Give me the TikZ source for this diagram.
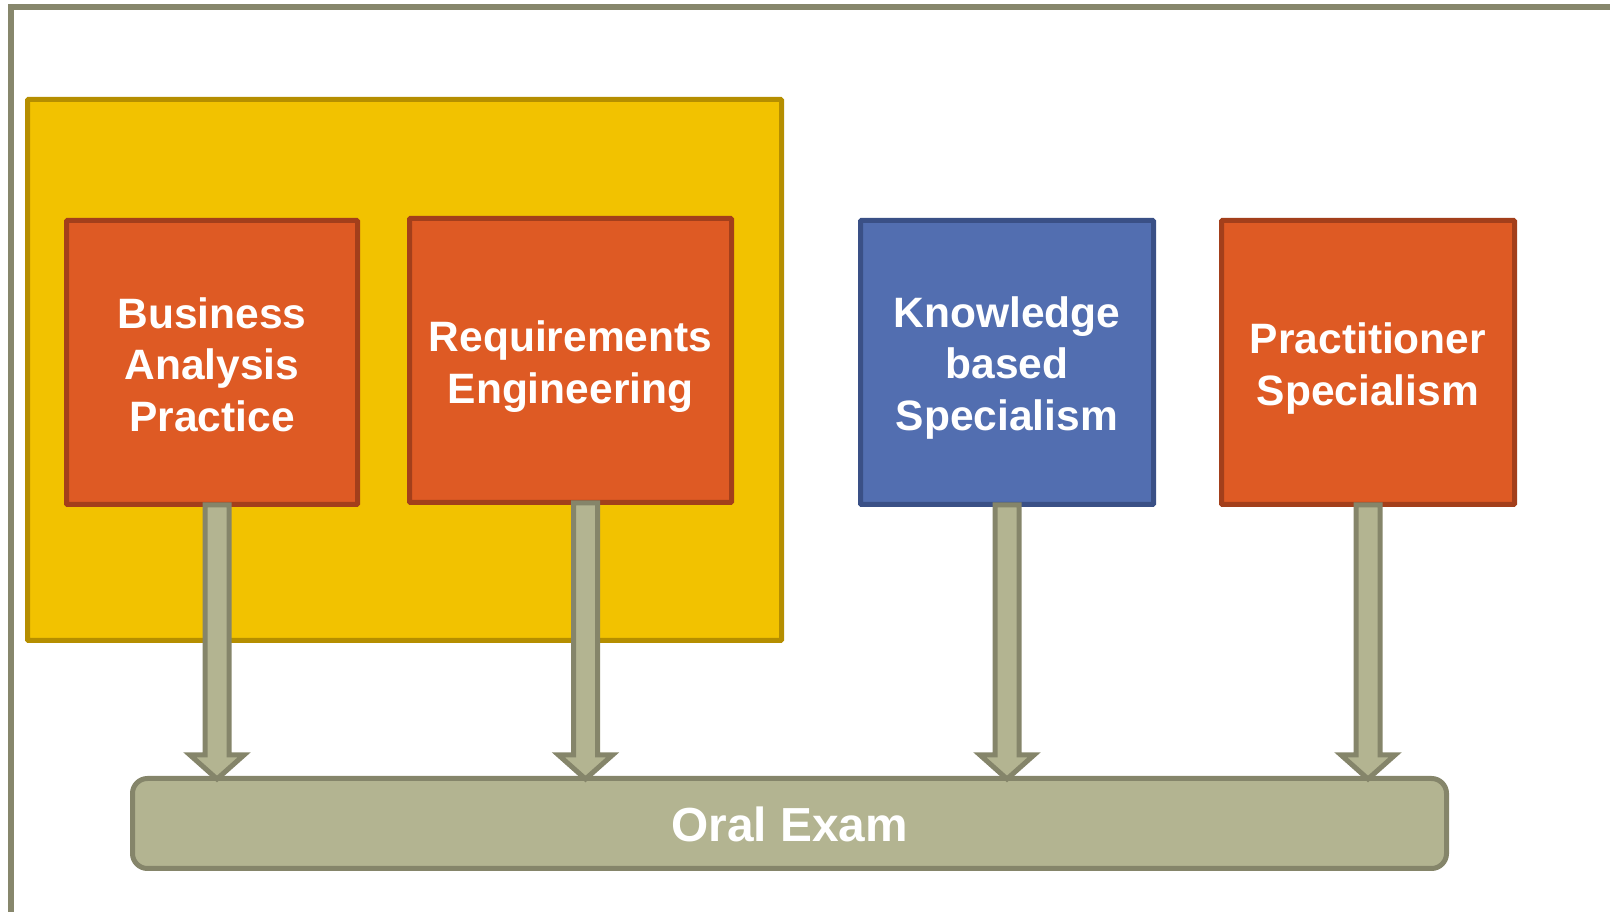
\documentclass[tikz,border=0pt]{standalone}
\usepackage{fontspec}
\setmainfont{Liberation Sans}
\usetikzlibrary{calc}

\definecolor{orangefill}{HTML}{DE5A24}
\definecolor{orangeline}{HTML}{A33F1B}
\definecolor{bluefill}{HTML}{526EB0}
\definecolor{blueline}{HTML}{3A5086}
\definecolor{yellowfill}{HTML}{F2C200}
\definecolor{yellowline}{HTML}{B58E00}
\definecolor{olivefill}{HTML}{B3B491}
\definecolor{oliveline}{HTML}{85856A}
\definecolor{frameline}{HTML}{87876C}

\tikzset{
	unitbox/.style={draw, line width=5pt, rounded corners=1pt, inner sep=0pt, minimum height=284pt},
	orangebox/.style={unitbox, draw=orangeline, fill=orangefill},
	bluebox/.style={unitbox, draw=blueline, fill=bluefill},
	unittext/.style={align=center, text=white, inner sep=0pt,
		font=\fontsize{42.5}{51.5}\selectfont\bfseries},
	fatarrow/.style={draw=oliveline, fill=olivefill, line width=5pt, miter limit=10},
}

\begin{document}
\begin{tikzpicture}[x=1pt, y=1pt]
	\useasboundingbox (0,0) rectangle (1610,912);
	\clip (0,0) rectangle (1610,912);
	\draw [frameline, line width=6pt] (11,-10) -- (11,905) -- (1630,905);

	\node [draw=yellowline, fill=yellowfill, line width=5pt, rounded corners=1pt,
		minimum width=754pt, minimum height=541pt] (core) at (404.5,542) {};

	\node [orangebox, minimum width=291pt] (bap) at (212,549.5) {};
	\node [orangebox, minimum width=322pt] (re) at (570.5,551.5) {};
	\node [bluebox, minimum width=293pt] (kbs) at (1007,549.5) {};
	\node [orangebox, minimum width=293pt] (ps) at (1368,549.5) {};

	% labels, shifted for descenders
	\foreach \unit/\dy/\txt in {bap/-2/{Business\\Analysis\\Practice}, re/-6/{Requirements\\Engineering},
			kbs/-5.5/{Knowledge\\based\\Specialism}, ps/-6/{Practitioner\\Specialism}}
		\node [unittext] (\unit-text) at ([yshift=\dy pt]\unit.center) {\txt};

	\node [draw=oliveline, fill=olivefill, line width=5pt, rounded corners=15pt,
		minimum width=1314pt, minimum height=90pt] (exam) at (789.5,88.5) {};
	\node [text=white, font=\fontsize{47.8}{56}\selectfont\bfseries] (exam-text)
		at ([yshift=-1pt]exam.center) {Oral Exam};

	% fat arrows into the exam
	\foreach \unit/\dx in {bap/5,re/15,kbs/0,ps/0}
		\draw [fatarrow] let \p1=([xshift=\dx pt, yshift=2pt]\unit.south), \p2=(exam.north) in
			(\x1-12pt,\y1) -- (\x1+12pt,\y1) -- (\x1+12pt,\y2+21pt) -- (\x1+27pt,\y2+21pt)
			-- (\x1,\y2-3pt) -- (\x1-27pt,\y2+21pt) -- (\x1-12pt,\y2+21pt) -- cycle;
\end{tikzpicture}
\end{document}
